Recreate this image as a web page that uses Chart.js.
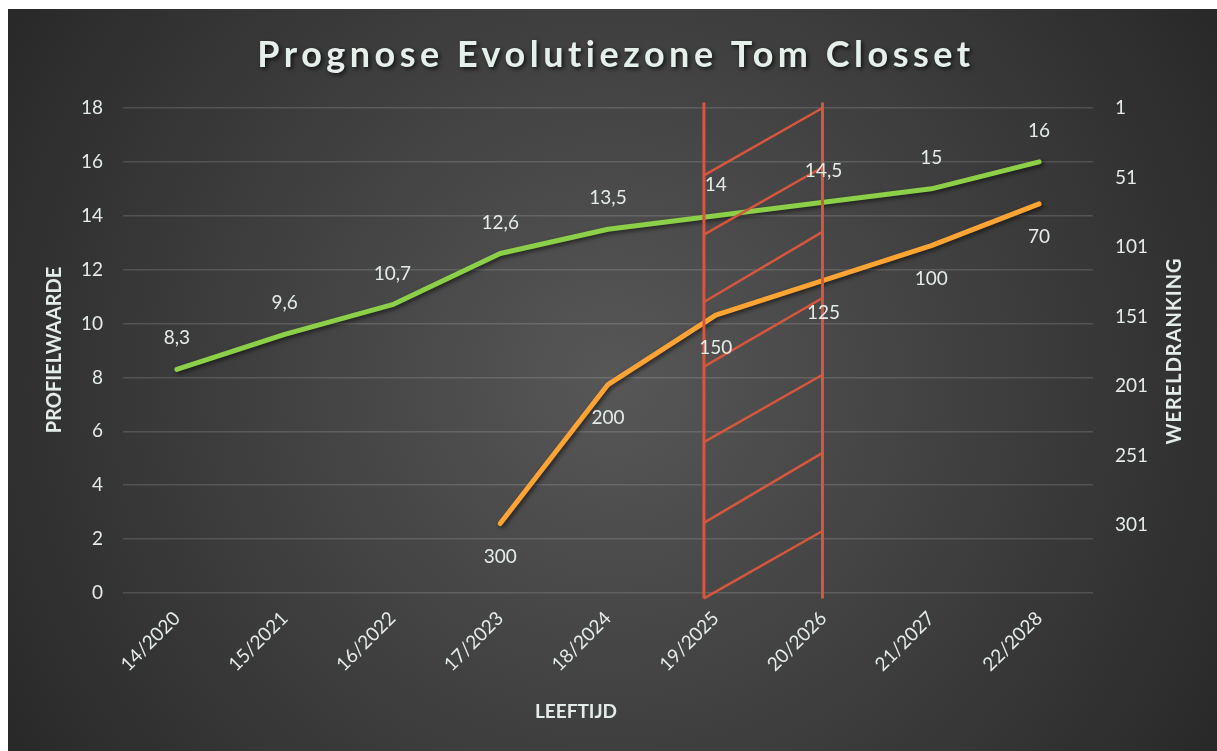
<!DOCTYPE html>
<html>
<head>
<meta charset="utf-8">
<script src="https://cdn.jsdelivr.net/npm/chart.js@4"></script>
<style>
  html, body { margin: 0; padding: 0; background: #ffffff; }
  #wrap { position: absolute; left: 8px; top: 9px; width: 1209px; height: 742px; }
</style>
</head>
<body>
<div id="wrap"><canvas id="c" width="1209" height="742"></canvas></div>
<script>
// ---- data ----
const categories = ['14/2020', '15/2021', '16/2022', '17/2023', '18/2024', '19/2025', '20/2026', '21/2027', '22/2028'];
const profielwaarde = [8.3, 9.6, 10.7, 12.6, 13.5, 14, 14.5, 15, 16];
const wereldranking = [null, null, null, 300, 200, 150, 125, 100, 70];
const leftTicks = [0, 2, 4, 6, 8, 10, 12, 14, 16, 18];
const rightTicks = [1, 51, 101, 151, 201, 251, 301];
const chartTitle = 'Prognose Evolutiezone Tom Closset';
const leftTitle = 'PROFIELWAARDE';
const rightTitle = 'WERELDRANKING';
const xTitle = 'LEEFTIJD';
// evolution zone (hand-placed hatched shape): edges in category-index units, heights in left-axis values
const zoneX = [4.89, 5.99];
const zoneExtent = [-0.2, 18.2];
const hatchLeft = [15.5, 13.3, 10.8, 8.4, 5.6, 2.6, -0.2];
const hatchRight = [18.0, 15.8, 13.4, 10.95, 8.1, 5.2, 2.3];

const FONT = 'Lato, "Open Sans", sans-serif';
const TEXT = '#e4ece8';
const GREEN = '#8ccf48';
const ORANGE = '#ffa333';
const RED = '#d6573e';

function fmt(v) { return String(v).replace('.', ','); }

const bgPlugin = {
  id: 'bg',
  beforeDraw(chart) {
    const { ctx, width, height } = chart;
    const g = ctx.createRadialGradient(width * 0.5, height * 0.5, 0, width * 0.5, height * 0.5, width * 0.62);
    g.addColorStop(0, '#575757');
    g.addColorStop(1, '#262626');
    ctx.save();
    ctx.fillStyle = g;
    ctx.fillRect(0, 0, width, height);
    ctx.restore();
  }
};

const shadowPlugin = {
  id: 'lineShadow',
  beforeDatasetDraw(chart) {
    const ctx = chart.ctx;
    ctx.save();
    ctx.shadowColor = 'rgba(0,0,0,0.55)';
    ctx.shadowBlur = 4;
    ctx.shadowOffsetX = 2;
    ctx.shadowOffsetY = 2;
  },
  afterDatasetDraw(chart) {
    chart.ctx.restore();
  }
};

const overlayPlugin = {
  id: 'overlay',
  afterDatasetsDraw(chart) {
    const { ctx, scales } = chart;
    const x = scales.x, y = scales.y;
    // hatched evolution zone
    const xl = x.getPixelForValue(zoneX[0]);
    const xr = x.getPixelForValue(zoneX[1]);
    ctx.save();
    ctx.strokeStyle = RED;
    ctx.lineWidth = 3;
    ctx.beginPath();
    [xl, xr].forEach(px => {
      ctx.moveTo(px, y.getPixelForValue(zoneExtent[1]));
      ctx.lineTo(px, y.getPixelForValue(zoneExtent[0]));
    });
    ctx.stroke();
    ctx.lineWidth = 2.5;
    ctx.beginPath();
    hatchLeft.forEach((v, i) => {
      ctx.moveTo(xl, y.getPixelForValue(v));
      ctx.lineTo(xr, y.getPixelForValue(hatchRight[i]));
    });
    ctx.stroke();
    ctx.restore();

    // data labels
    ctx.save();
    ctx.font = '19px ' + FONT;
    ctx.fillStyle = TEXT;
    ctx.textAlign = 'center';
    ctx.textBaseline = 'middle';
    chart.getDatasetMeta(0).data.forEach((pt, i) => {
      ctx.fillText(fmt(profielwaarde[i]), pt.x, pt.y - 31);
    });
    chart.getDatasetMeta(1).data.forEach((pt, i) => {
      if (wereldranking[i] == null) return;
      ctx.fillText(fmt(wereldranking[i]), pt.x, pt.y + 33);
    });
    ctx.restore();
  },
  afterDraw(chart) {
    const { ctx } = chart;
    ctx.save();
    // chart title
    ctx.font = 'bold 36px ' + FONT;
    ctx.letterSpacing = '4.5px';
    ctx.textAlign = 'center';
    ctx.textBaseline = 'middle';
    ctx.shadowColor = 'rgba(0,0,0,0.7)';
    ctx.shadowBlur = 4;
    ctx.shadowOffsetX = 2;
    ctx.shadowOffsetY = 2;
    ctx.fillStyle = '#e6f0ea';
    ctx.fillText(chartTitle, 608, 46);
    ctx.restore();

    ctx.save();
    ctx.font = 'bold 19px ' + FONT;
    ctx.fillStyle = TEXT;
    ctx.textAlign = 'center';
    ctx.textBaseline = 'middle';
    ctx.fillText(xTitle, 568, 703);
    ctx.font = 'bold 20px ' + FONT;
    ctx.translate(47, 341);
    ctx.rotate(-Math.PI / 2);
    ctx.fillText(leftTitle, 0, 0);
    ctx.restore();

    ctx.save();
    ctx.font = 'bold 20px ' + FONT;
    ctx.letterSpacing = '1px';
    ctx.fillStyle = TEXT;
    ctx.textAlign = 'center';
    ctx.textBaseline = 'middle';
    ctx.translate(1167, 342);
    ctx.rotate(-Math.PI / 2);
    ctx.fillText(rightTitle, 0, 0);
    ctx.restore();
  }
};

new Chart(document.getElementById('c'), {
  type: 'line',
  data: {
    labels: categories,
    datasets: [
      {
        label: 'Profielwaarde',
        data: profielwaarde,
        yAxisID: 'y',
        borderColor: GREEN,
        borderWidth: 5,
        borderCapStyle: 'round',
        borderJoinStyle: 'round',
        pointRadius: 0,
        tension: 0
      },
      {
        label: 'Wereldranking',
        data: wereldranking,
        yAxisID: 'y2',
        borderColor: ORANGE,
        borderWidth: 5,
        borderCapStyle: 'round',
        borderJoinStyle: 'round',
        pointRadius: 0,
        tension: 0,
        spanGaps: false
      }
    ]
  },
  options: {
    responsive: false,
    animation: false,
    events: [],
    layout: { padding: { top: 99, left: 0, right: 0, bottom: 0 } },
    plugins: {
      legend: { display: false },
      title: { display: false },
      tooltip: { enabled: false }
    },
    scales: {
      x: {
        offset: true,
        grid: { display: false, drawTicks: false },
        border: { display: false },
        ticks: {
          color: TEXT,
          font: { family: FONT, size: 19 },
          minRotation: 45,
          maxRotation: 45,
          padding: 14
        },
        afterFit(s) { s.height = 158; }
      },
      y: {
        position: 'left',
        min: 0,
        max: 18,
        grid: { color: 'rgba(255,255,255,0.14)', lineWidth: 1.5, drawTicks: false },
        border: { display: false },
        ticks: {
          color: TEXT,
          font: { family: FONT, size: 19 },
          stepSize: 2,
          padding: 20
        },
        afterBuildTicks(s) { s.ticks = leftTicks.map(v => ({ value: v })); },
        afterFit(s) { s.width = 115; }
      },
      y2: {
        position: 'right',
        min: 1,
        max: 350,
        reverse: true,
        grid: { display: false, drawTicks: false },
        border: { display: false },
        ticks: {
          color: TEXT,
          font: { family: FONT, size: 19 },
          padding: 22
        },
        afterBuildTicks(s) { s.ticks = rightTicks.map(v => ({ value: v })); },
        afterFit(s) { s.width = 124; }
      }
    }
  },
  plugins: [bgPlugin, shadowPlugin, overlayPlugin]
});
</script>
</body>
</html>
